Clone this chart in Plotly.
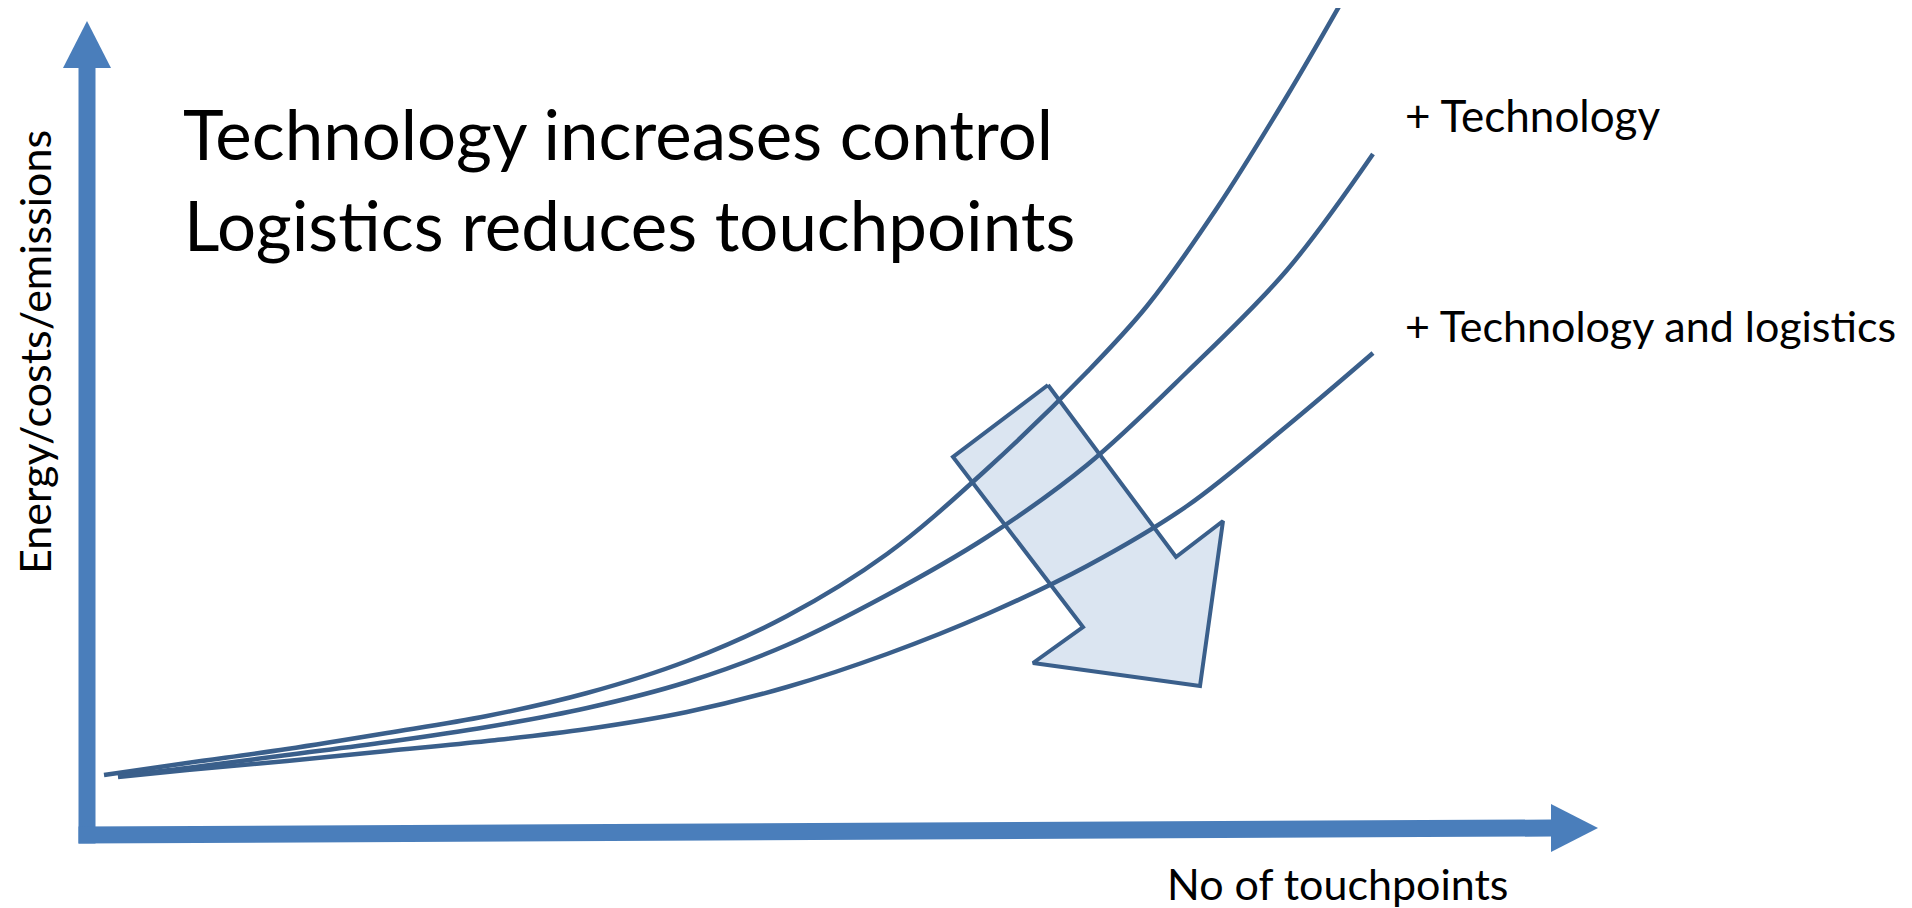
import plotly.graph_objects as go

# ---------------- data (x = touchpoints units, y = energy/costs/emissions units) -------------
baseline_x = [17, 100, 200, 300, 400, 500, 600, 700, 800, 900, 1000, 1060, 1130, 1200, 1254]
baseline_y = [60, 72, 86, 102, 119, 142, 174, 219, 281, 366, 463, 529, 627, 739, 832]

tech_x = [31, 100, 200, 300, 400, 500, 600, 700, 800, 900, 1000, 1100, 1200, 1286]
tech_y = [59, 67, 80, 93, 108, 127, 153, 190, 240, 298, 370, 463, 565, 681]

techlog_x = [31, 100, 200, 300, 400, 500, 600, 700, 800, 900, 1000, 1100, 1200, 1286]
techlog_y = [58, 65, 74, 84, 94, 106, 123, 148, 181, 221, 269, 329, 409, 482]

shift_arrow_x = [961, 1089, 1136, 1113, 946, 996, 866, 961]
shift_arrow_y = [450, 278, 314, 149, 172, 208, 378, 450]

title_lines = ["Technology increases control", "Logistics reduces touchpoints"]
curve_labels = ["+ Technology", "+ Technology and logistics"]
x_title = "No of touchpoints"
y_title = "Energy/costs/emissions"

# ---------------- styling ----------------
AXIS_COLOR = "#4A7EBB"
CURVE_COLOR = "#3A5F8B"
FILL_COLOR = "#DBE5F1"
FONT = "Lato"

# page has an 8px body margin, so the figure is 8px smaller than the window
X_RANGE = [-79, 1825]
Y_RANGE = [-73, 827]

fig = go.Figure()

fig.add_trace(go.Scatter(
    x=shift_arrow_x, y=shift_arrow_y, mode="lines", fill="toself",
    fillcolor=FILL_COLOR, line=dict(color=CURVE_COLOR, width=4),
    hoverinfo="skip", showlegend=False))

for xs, ys in [(baseline_x, baseline_y), (tech_x, tech_y), (techlog_x, techlog_y)]:
    fig.add_trace(go.Scatter(
        x=xs, y=ys, mode="lines",
        line=dict(color=CURVE_COLOR, width=4.5, shape="spline", smoothing=1.0),
        hoverinfo="skip", showlegend=False))

# axis arrows (drawn as shapes in axis units)
hw = 8.5       # half shaft width
head_len = 47
head_hw = 24
y_top = 814
x_end = 1511
tilt = 7       # x-axis rises slightly to the right
x_base = x_end - head_len
shapes = [
    dict(type="path", xref="x", yref="y",
         path=f"M {-hw},{-hw} L {hw},{-hw} L {hw},{y_top - head_len} L {-hw},{y_top - head_len} Z",
         fillcolor=AXIS_COLOR, line=dict(width=0)),
    dict(type="path", xref="x", yref="y",
         path=f"M {-head_hw},{y_top - head_len} L {head_hw},{y_top - head_len} L 0,{y_top} Z",
         fillcolor=AXIS_COLOR, line=dict(width=0)),
    dict(type="path", xref="x", yref="y",
         path=f"M {-hw},{-hw} L {x_base},{tilt - hw} L {x_base},{tilt + hw} L {-hw},{hw} Z",
         fillcolor=AXIS_COLOR, line=dict(width=0)),
    dict(type="path", xref="x", yref="y",
         path=f"M {x_base},{tilt - head_hw} L {x_base},{tilt + head_hw} L {x_end},{tilt} Z",
         fillcolor=AXIS_COLOR, line=dict(width=0)),
]

annotations = [
    dict(x=94, y=702, text=title_lines[0], xanchor="left", yanchor="middle",
         font=dict(family=FONT, size=69, color="black")),
    dict(x=95, y=611, text=title_lines[1], xanchor="left", yanchor="middle",
         font=dict(family=FONT, size=69, color="black")),
    dict(x=1316, y=720, text=curve_labels[0], xanchor="left", yanchor="middle",
         font=dict(family=FONT, size=44, color="black")),
    dict(x=1316, y=510, text=curve_labels[1], xanchor="left", yanchor="middle",
         font=dict(family=FONT, size=43, color="black")),
    dict(x=1078, y=-48, text=x_title, xanchor="left", yanchor="middle",
         font=dict(family=FONT, size=43, color="black")),
    dict(x=-53, y=483, text=y_title, textangle=-90, xanchor="center", yanchor="middle",
         font=dict(family=FONT, size=43, color="black")),
]
for a in annotations:
    a.update(xref="x", yref="y", showarrow=False)

fig.update_layout(
    width=1904, height=900,
    margin=dict(l=0, r=0, t=0, b=0),
    paper_bgcolor="white", plot_bgcolor="white",
    xaxis=dict(range=X_RANGE, visible=False, fixedrange=True),
    yaxis=dict(range=Y_RANGE, visible=False, fixedrange=True),
    shapes=shapes, annotations=annotations,
    showlegend=False,
)

fig.write_html("out.html", config={"displayModeBar": False})
